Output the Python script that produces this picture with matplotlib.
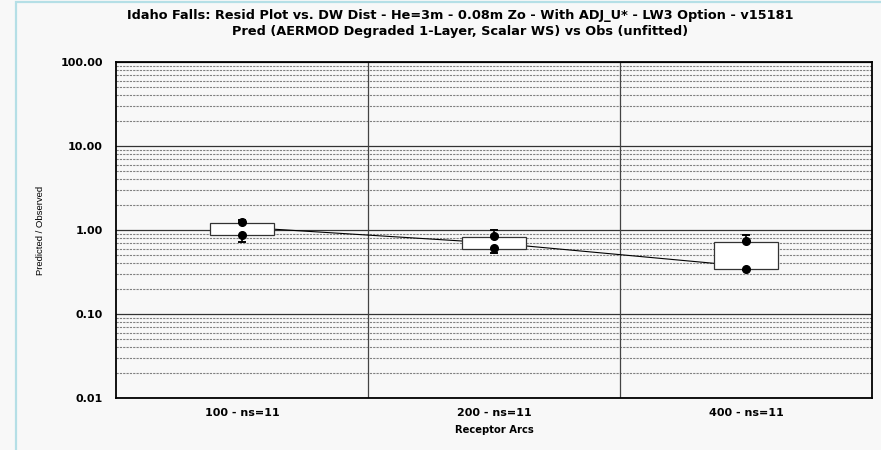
import matplotlib
matplotlib.use("Agg")
import matplotlib.pyplot as plt
from matplotlib.patches import Rectangle
from matplotlib.ticker import FixedLocator, NullFormatter, LogLocator

plt.rcParams['font.family'] = ['DejaVu Sans']

# Residual ratios (Pred/Obs) per receptor arc
arcs = ['100 - ns=11', '200 - ns=11', '400 - ns=11']
box_lo = [0.87, 0.60, 0.34]
box_hi = [1.21, 0.83, 0.72]
whisk_lo = [0.72, 0.53, 0.33]
whisk_hi = [1.31, 1.00, 0.87]
dot_hi = [1.25, 0.86, 0.73]
dot_lo = [0.87, 0.61, 0.34]
center = [1.08, 0.70, 0.37]
ytick_vals = [0.01, 0.1, 1, 10, 100]

bg = '#f8f8f8'
fig = plt.figure(figsize=(8.81, 4.5), dpi=100, facecolor=bg)
fig.patches.append(Rectangle((16 / 881, -0.1), 1.2, 1.1 - 1.5 / 450, transform=fig.transFigure,
                             facecolor='none', edgecolor='#b5dfe6', linewidth=1.6))

ax = fig.add_axes([116 / 881, 1 - 398 / 450, 756 / 881, 336 / 450], facecolor=bg)
ax.set_yscale('log')
ax.set_ylim(0.01, 100)
ax.set_xlim(0.5, 3.5)

# grid: solid decades, dashed minors, solid category separators
ax.yaxis.set_major_locator(FixedLocator(ytick_vals))
ax.yaxis.set_minor_locator(LogLocator(base=10, subs=range(2, 10)))
ax.yaxis.set_minor_formatter(NullFormatter())
ax.grid(True, which='major', axis='y', color='#333333', linewidth=0.9, linestyle='-')
ax.grid(True, which='minor', axis='y', color='#808080', linewidth=0.8, linestyle=(0, (2, 1)))
for xs in [1.5, 2.5]:
    ax.axvline(xs, color='#444444', linewidth=0.9, zorder=1)
ax.set_axisbelow(True)

x = [1, 2, 3]
ax.plot(x, center, color='black', linewidth=0.8, zorder=2)

bw = 0.254
for i, xi in enumerate(x):
    ax.add_patch(Rectangle((xi - bw / 2, box_lo[i]), bw, box_hi[i] - box_lo[i],
                           facecolor='white', edgecolor='#333333', linewidth=0.9, zorder=3))
    ax.plot([xi, xi], [box_hi[i], whisk_hi[i]], color='black', linewidth=1.2, zorder=4)
    ax.plot([xi, xi], [whisk_lo[i], box_lo[i]], color='black', linewidth=1.2, zorder=4)
    ax.plot([xi - 0.012, xi + 0.012], [whisk_hi[i]] * 2, color='black', linewidth=1.4, zorder=4)
    ax.plot([xi - 0.012, xi + 0.012], [whisk_lo[i]] * 2, color='black', linewidth=1.4, zorder=4)
ax.plot(x, dot_hi, 'o', color='black', markersize=5.5, zorder=5)
ax.plot(x, dot_lo, 'o', color='black', markersize=5.5, zorder=5)

ax.set_xticks(x)
ax.set_xticklabels(arcs, fontsize=8, fontweight='bold')
ax.set_yticklabels(['%.2f' % v for v in ytick_vals], fontsize=8, fontweight='bold')
ax.tick_params(which='both', length=0)
ax.tick_params(axis='y', pad=9.5)
ax.tick_params(axis='x', pad=7)
for s in ax.spines.values():
    s.set_linewidth(1.3)
    s.set_color('black')

ax.set_xlabel('Receptor Arcs', fontsize=7.2, fontweight='bold', labelpad=5)
ax.set_ylabel('Predicted / Observed', fontsize=6.8, labelpad=11,
              family=['Liberation Sans', 'DejaVu Sans'])

fig.text(460 / 881, 1 - 16 / 450, 'Idaho Falls: Resid Plot vs. DW Dist - He=3m - 0.08m Zo - With ADJ_U* - LW3 Option - v15181',
         ha='center', va='center', fontsize=9.3, fontweight='bold')
fig.text(460 / 881, 1 - 31 / 450, 'Pred (AERMOD Degraded 1-Layer, Scalar WS) vs Obs (unfitted)',
         ha='center', va='center', fontsize=9.3, fontweight='bold')

fig.savefig('out.png', dpi=100, facecolor=bg)
